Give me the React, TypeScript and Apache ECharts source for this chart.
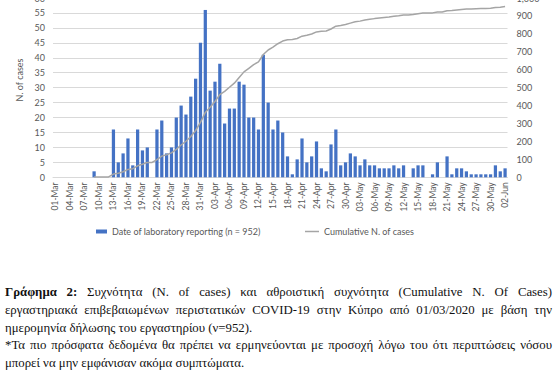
import React, { useEffect, useRef } from "react";
import * as echarts from "echarts";

const months: [string, number][] = [["Mar", 31], ["Apr", 30], ["May", 31], ["Jun", 2]];
const dates: string[] = [];
for (const [m, n] of months) {
  for (let d = 1; d <= n; d++) dates.push((d < 10 ? "0" : "") + d + "-" + m);
}

// daily cases, 01-Mar .. 02-Jun
const dailyMar = [0, 0, 0, 0, 0, 0, 0, 0, 2, 0, 0, 0, 16, 5, 8, 13, 4, 16, 9, 10, 0, 16, 19, 8, 10, 20, 24, 21, 27, 33, 45];
const dailyApr = [56, 29, 32, 38, 18, 23, 23, 32, 31, 20, 20, 16, 41, 25, 16, 19, 15, 7, 1, 6, 13, 5, 7, 12, 3, 2, 11, 16, 4, 5];
const dailyMay = [8, 7, 4, 6, 4, 4, 3, 3, 3, 4, 3, 4, 0, 3, 4, 4, 0, 1, 5, 0, 7, 1, 3, 3, 2, 1, 1, 1, 1, 1, 4];
const dailyJun = [2, 3];
const daily = [...dailyMar, ...dailyApr, ...dailyMay, ...dailyJun];

const firstCaseIndex = 8;
const cumulative: (number | null)[] = [];
{
  let s = 0;
  daily.forEach((v, i) => {
    s += v;
    cumulative.push(i >= firstCaseIndex ? s : null);
  });
}

const barName = "Date of laboratory reporting (n = 952)";
const lineName = "Cumulative N. of cases";
const leftTicks = { min: 0, max: 60, interval: 5 };
const rightTicks = { min: 0, max: 1000, interval: 100 };

const captionLines: { text: string; bold?: string; justify: boolean }[] = [
  { bold: "Γράφημα 2:", text: " Συχνότητα (N. of cases) και αθροιστική συχνότητα (Cumulative N. Of Cases)", justify: true },
  { text: "εργαστηριακά επιβεβαιωμένων περιστατικών COVID-19 στην Κύπρο από 01/03/2020 με βάση την", justify: true },
  { text: "ημερομηνία δήλωσης του εργαστηρίου (ν=952).", justify: false },
  { text: "*Τα πιο πρόσφατα δεδομένα θα πρέπει να ερμηνεύονται με προσοχή λόγω του ότι περιπτώσεις νόσου", justify: true },
  { text: "μπορεί να μην εμφάνισαν ακόμα συμπτώματα.", justify: false },
];

const FONT = "Lato, 'Open Sans', sans-serif";
const GREY = "#595959";
const CHART_H = 250;

export default function App() {
  const ref = useRef<HTMLDivElement>(null);
  useEffect(() => {
    if (!ref.current) return;
    const chart = echarts.init(ref.current, undefined, { renderer: "svg" });
    chart.setOption({
      animation: false,
      backgroundColor: "#ffffff",
      grid: {
        left: 53,
        right: 52.5,
        top: -2,
        bottom: CHART_H - 177.3,
        containLabel: false,
        outerBoundsMode: "none",
      },
      xAxis: {
        type: "category",
        data: dates,
        axisLine: { lineStyle: { color: "#D9D9D9" } },
        axisTick: { show: false },
        axisLabel: { interval: 2, rotate: 90, color: GREY, fontSize: 8.5, fontFamily: FONT, margin: 5 },
      },
      yAxis: [
        {
          type: "value",
          ...leftTicks,
          axisLine: { show: false },
          axisTick: { show: false },
          splitLine: { lineStyle: { color: "#D9D9D9" } },
          axisLabel: { color: GREY, fontSize: 9, fontFamily: FONT, margin: 8 },
        },
        {
          type: "value",
          ...rightTicks,
          axisLine: { show: false },
          axisTick: { show: false },
          splitLine: { show: false },
          axisLabel: { color: GREY, fontSize: 9, fontFamily: FONT, margin: 9 },
        },
      ],
      legend: [
        {
          data: [barName],
          left: 96,
          top: 227,
          padding: 0,
          icon: "rect",
          itemWidth: 11,
          itemHeight: 4,
          textStyle: { color: GREY, fontSize: 9, fontFamily: FONT },
        },
        {
          data: [lineName],
          left: 305,
          top: 227,
          padding: 0,
          icon: "rect",
          itemWidth: 14,
          itemHeight: 1.5,
          textStyle: { color: GREY, fontSize: 9, fontFamily: FONT },
        },
      ],
      graphic: [
        {
          type: "text",
          x: 19,
          y: 80,
          rotation: Math.PI / 2,
          style: { text: "N. of cases", fill: GREY, font: `9px ${FONT}`, align: "center", verticalAlign: "middle" },
        },
      ],
      series: [
        {
          name: barName,
          type: "bar",
          data: daily,
          yAxisIndex: 0,
          barCategoryGap: "33%",
          itemStyle: { color: "#4472C4" },
        },
        {
          name: lineName,
          type: "line",
          data: cumulative,
          yAxisIndex: 1,
          showSymbol: false,
          symbol: "none",
          lineStyle: { color: "#A5A5A5", width: 1.5 },
          itemStyle: { color: "#A5A5A5" },
        },
      ],
    });
    return () => chart.dispose();
  }, []);

  return (
    <div style={{ position: "absolute", left: 0, top: 0, width: 560, height: 388, background: "#fff", overflow: "hidden" }}>
      <div ref={ref} style={{ position: "absolute", left: 0, top: 0, width: 560, height: CHART_H }} />
      <div
        style={{
          position: "absolute",
          left: 5,
          top: 284,
          width: 547,
          fontFamily: "'Liberation Serif', 'DejaVu Serif', serif",
          fontSize: 12.8,
          color: "#111",
        }}
      >
        {captionLines.map((l, i) => (
          <div
            key={i}
            style={{
              height: 17.75,
              lineHeight: "17.75px",
              whiteSpace: "nowrap",
              textAlign: l.justify ? "justify" : "left",
              textAlignLast: l.justify ? "justify" : "left",
              overflow: "visible",
            }}
          >
            {l.bold ? <b>{l.bold}</b> : null}
            {l.text}
          </div>
        ))}
      </div>
    </div>
  );
}
